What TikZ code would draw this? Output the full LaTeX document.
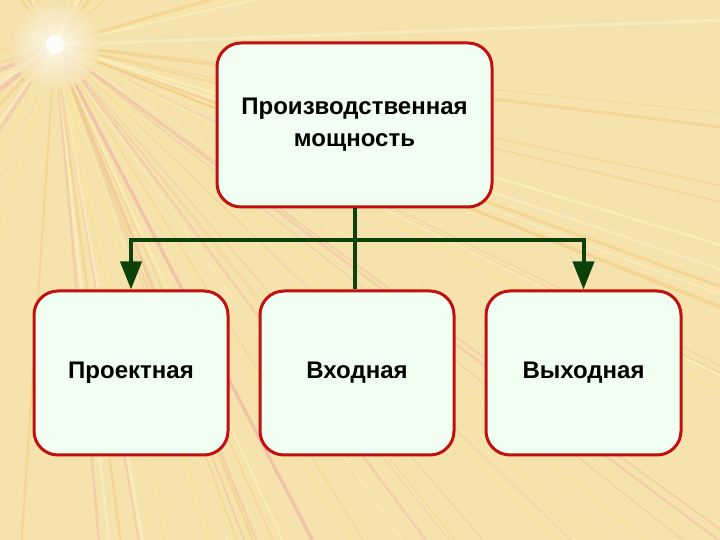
\documentclass[tikz,border=0pt]{standalone}
\usepackage{fontspec}
\setmainfont{Liberation Sans}
\usetikzlibrary{arrows.meta}

\definecolor{bgbeige}{RGB}{245,226,172}
\definecolor{boxred}{RGB}{192,16,16}
\definecolor{boxfill}{RGB}{240,255,242}
\definecolor{linegreen}{RGB}{12,66,10}
\definecolor{ray0}{RGB}{255,250,215}
\definecolor{ray1}{RGB}{238,178,168}
\definecolor{ray2}{RGB}{240,196,112}
\definecolor{ray3}{RGB}{252,238,150}

\tikzset{
  box/.style={draw=boxred, line width=3pt, fill=boxfill, rounded corners=24pt,
    minimum height=164pt, align=center,
    font=\fontsize{24}{32}\selectfont\bfseries},
  conn/.style={draw=linegreen, line width=4pt},
  ray/.style={line width=#1, opacity=0.4}
}

\begin{document}
\begin{tikzpicture}[x=1pt,y=1pt]
          % background with rays
          \begin{scope}
            \clip (0,0) rectangle (720,540);
            \fill[bgbeige] (0,0) rectangle (720,540);
            \coordinate (sun) at (55,495);
            \pgfmathsetseed{11}
            \foreach \i in {1,...,60}{
              \pgfmathsetmacro{\ang}{360*rnd}
              \pgfmathsetmacro{\wd}{0.6+3*rnd}
              \pgfmathtruncatemacro{\c}{mod(\i,4)}
              \draw[ray=\wd pt, draw=ray\c] (sun) -- ++(\ang:950);
            }
            \foreach \i in {1,...,40}{
              \pgfmathsetmacro{\ang}{-85+80*rnd}
              \pgfmathsetmacro{\wd}{0.5+2.5*rnd}
              \pgfmathtruncatemacro{\c}{mod(\i,4)}
              \draw[ray=\wd pt, draw=ray\c] (sun) -- ++(\ang:950);
            }
            \shade[inner color=white, outer color=bgbeige, opacity=0.8] (sun) circle (45);
            \fill[white, opacity=0.9] (sun) circle (9);
          \end{scope}

          \node[box, minimum width=275pt] (Capacity) at (354.5,415) {Производственная\\мощность};
          \node[box, minimum width=194pt] (Design) at (131,167) {Проектная};
          \node[box, minimum width=194pt] (Input) at (357,167) {Входная};
          \node[box, minimum width=195pt] (Output) at (583.5,167) {Выходная};

          \coordinate (Branch) at (354.5,300);

          \draw[conn] (Capacity.south) -- (Capacity.south |- Input.north);
          \draw[conn, -{Triangle[length=28pt,width=21pt]}] (Branch) -| (Design.north);
          \draw[conn, -{Triangle[length=28pt,width=21pt]}] (Branch) -| (Output.north);
        \end{tikzpicture}
\end{document}
